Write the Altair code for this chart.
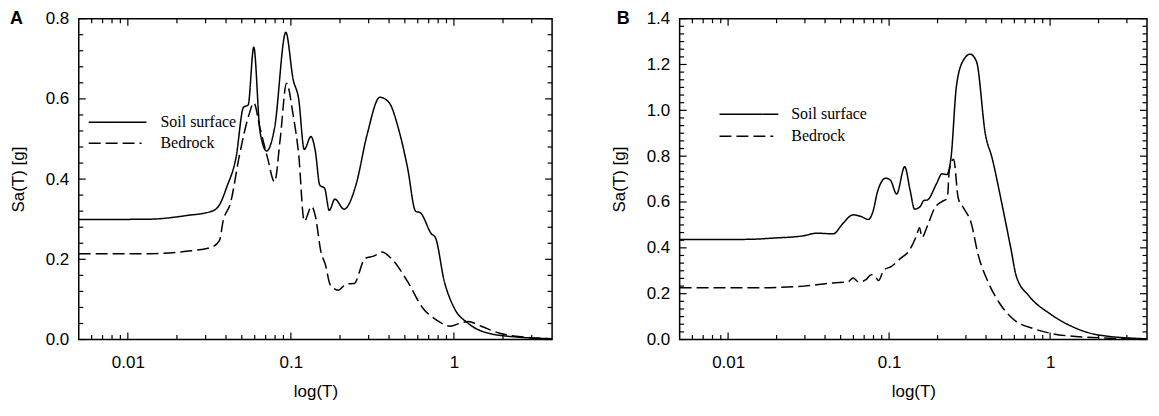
import altair as alt
import pandas as pd

# ---------------- Panel A data ----------------
A_SOIL_T = [0.005, 0.0135, 0.0228, 0.0328, 0.0365, 0.0405, 0.0461, 0.0512, 0.0547, 0.0592,
            0.0647, 0.0710, 0.0794, 0.0931, 0.1033, 0.1116, 0.1208, 0.1327, 0.1412, 0.1504,
            0.161, 0.172, 0.186, 0.212, 0.2505, 0.293, 0.3515, 0.400, 0.456, 0.519,
            0.582, 0.623, 0.729, 0.768, 0.873, 1.0, 1.227, 1.634, 2.48, 4.0]
A_SOIL_SA = [0.299, 0.300, 0.309, 0.320, 0.336, 0.381, 0.454, 0.579, 0.585, 0.729,
             0.518, 0.470, 0.527, 0.766, 0.648, 0.600, 0.474, 0.506, 0.470, 0.385,
             0.377, 0.322, 0.350, 0.325, 0.385, 0.510, 0.604, 0.591, 0.527, 0.429,
             0.320, 0.316, 0.263, 0.255, 0.145, 0.080, 0.040, 0.0156, 0.006, 0.002]

A_BED_T = [0.005, 0.0135, 0.0228, 0.0328, 0.0365, 0.0384, 0.0426, 0.0485, 0.0552, 0.0592,
           0.0647, 0.0718, 0.0794, 0.0861, 0.094, 0.1033, 0.1116, 0.1208, 0.134, 0.1412,
           0.153, 0.163, 0.174, 0.195, 0.220, 0.2437, 0.285, 0.325, 0.3606, 0.4217,
           0.519, 0.640, 0.787, 0.946, 1.105, 1.22, 1.47, 1.91, 2.75, 4.0]
A_BED_SA = [0.214, 0.214, 0.220, 0.2305, 0.247, 0.295, 0.340, 0.462, 0.559, 0.590,
            0.527, 0.454, 0.393, 0.502, 0.639, 0.559, 0.462, 0.295, 0.332, 0.308,
            0.218, 0.186, 0.137, 0.123, 0.139, 0.1395, 0.202, 0.2085, 0.218, 0.198,
            0.145, 0.080, 0.048, 0.0333, 0.0414, 0.045, 0.033, 0.0156, 0.006, 0.002]

# ---------------- Panel B data ----------------
B_SOIL_T = [0.005, 0.01294, 0.0196, 0.02965, 0.0356, 0.045, 0.0512, 0.0598, 0.0663, 0.0743,
            0.0795, 0.0847, 0.0954, 0.102, 0.1114, 0.125, 0.135, 0.144, 0.156, 0.164,
            0.173, 0.197, 0.213, 0.228, 0.2425, 0.262, 0.290, 0.319, 0.349, 0.397,
            0.4355, 0.501, 0.571, 0.617, 0.740, 1.0, 1.386, 1.994, 4.0]
B_SOIL_SA = [0.436, 0.437, 0.443, 0.453, 0.464, 0.461, 0.503, 0.544, 0.538, 0.524,
             0.560, 0.645, 0.704, 0.695, 0.635, 0.754, 0.652, 0.569, 0.580, 0.606,
             0.609, 0.680, 0.723, 0.720, 0.794, 1.106, 1.220, 1.245, 1.213, 0.893,
             0.794, 0.595, 0.396, 0.276, 0.190, 0.112, 0.055, 0.020, 0.003]

B_BED_T = [0.005, 0.0159, 0.02965, 0.0365, 0.045, 0.0553, 0.0598, 0.0647, 0.0718, 0.0775,
           0.081, 0.0860, 0.0929, 0.103, 0.1172, 0.1336, 0.148, 0.1545, 0.160, 0.173,
           0.192, 0.213, 0.230, 0.2365, 0.2516, 0.269, 0.290, 0.323, 0.358, 0.419,
           0.489, 0.602, 0.780, 1.01, 1.70, 4.0]
B_BED_SA = [0.226, 0.226, 0.233, 0.240, 0.247, 0.251, 0.268, 0.251, 0.261, 0.283,
            0.280, 0.257, 0.304, 0.318, 0.353, 0.389, 0.453, 0.488, 0.446, 0.496,
            0.574, 0.602, 0.616, 0.737, 0.787, 0.616, 0.574, 0.510, 0.368, 0.240,
            0.155, 0.084, 0.0486, 0.027, 0.010, 0.002]

# ---------------- ticks & labels ----------------
X_DOMAIN = [0.005, 4]
X_MAJOR = [0.01, 0.1, 1]
X_MINOR = [0.006, 0.007, 0.008, 0.009,
           0.02, 0.03, 0.04, 0.05, 0.06, 0.07, 0.08, 0.09,
           0.2, 0.3, 0.4, 0.5, 0.6, 0.7, 0.8, 0.9,
           2, 3]
A_Y_DOMAIN = [0, 0.8]
A_Y_MAJOR = [0.0, 0.2, 0.4, 0.6, 0.8]
A_Y_MINOR = [0.04, 0.08, 0.12, 0.16, 0.24, 0.28, 0.32, 0.36,
             0.44, 0.48, 0.52, 0.56, 0.64, 0.68, 0.72, 0.76]
B_Y_DOMAIN = [0, 1.4]
B_Y_MAJOR = [0.0, 0.2, 0.4, 0.6, 0.8, 1.0, 1.2, 1.4]
B_Y_MINOR = [0.0333, 0.0667, 0.1, 0.1333, 0.1667,
             0.2333, 0.2667, 0.3, 0.3333, 0.3667,
             0.4333, 0.4667, 0.5, 0.5333, 0.5667,
             0.6333, 0.6667, 0.7, 0.7333, 0.7667,
             0.8333, 0.8667, 0.9, 0.9333, 0.9667,
             1.0333, 1.0667, 1.1, 1.1333, 1.1667,
             1.2333, 1.2667, 1.3, 1.3333, 1.3667]
SERIES = ["Soil surface", "Bedrock"]
X_TITLE = "log(T)"
Y_TITLE = "Sa(T) [g]"

H = 322
MAJ = 7
MIN = 4.5


def panel(letter, soil_t, soil_sa, bed_t, bed_sa, ydom, ymaj, ymin, W, leg_x0, leg_x1, leg_tx, leg_y, letter_x):
    xs = alt.Scale(type="log", domain=X_DOMAIN, nice=False)
    ys = alt.Scale(domain=ydom, nice=False, zero=False)
    df = pd.concat([
        pd.DataFrame({"T": soil_t, "Sa": soil_sa, "s": SERIES[0]}),
        pd.DataFrame({"T": bed_t, "Sa": bed_sa, "s": SERIES[1]}),
    ])
    lines = alt.Chart(df).mark_line(color="black", strokeWidth=1.5, interpolate="monotone").encode(
        x=alt.X("T:Q", scale=xs, title=X_TITLE,
                axis=alt.Axis(values=X_MAJOR, format="~g", ticks=False, domain=False, grid=False,
                              orient="bottom", labelPadding=15, titlePadding=13)),
        y=alt.Y("Sa:Q", scale=ys, title=Y_TITLE,
                axis=alt.Axis(values=ymaj, format=".1f", ticks=False, domain=False, grid=False,
                              orient="left", labelPadding=10, titlePadding=18)),
        strokeDash=alt.StrokeDash("s:N", scale=alt.Scale(domain=SERIES, range=[[1, 0], [12, 5]]), legend=None),
        detail="s:N",
    )

    def xt(vals, y0, y1):
        return alt.Chart(pd.DataFrame({"v": vals})).mark_rule(color="black", strokeWidth=1.2).encode(
            x=alt.X("v:Q", scale=xs, axis=None), y=alt.value(y0), y2=alt.value(y1))

    def yt(vals, x0, x1):
        return alt.Chart(pd.DataFrame({"v": vals})).mark_rule(color="black", strokeWidth=1.2).encode(
            y=alt.Y("v:Q", scale=ys, axis=None), x=alt.value(x0), x2=alt.value(x1))

    ticks = [
        xt(X_MAJOR, H, H - MAJ), xt(X_MINOR, H, H - MIN),
        xt(X_MAJOR, 0, MAJ), xt(X_MINOR, 0, MIN),
        yt(ymaj, 0, MAJ), yt(ymin, 0, MIN),
        yt(ymaj, W, W - MAJ), yt(ymin, W, W - MIN),
    ]

    legend = []
    for i, name in enumerate(SERIES):
        dash = [1, 0] if i == 0 else [12, 5]
        x1 = leg_x1[i]
        legend.append(
            alt.Chart(pd.DataFrame({"label": [name]})).mark_rule(color="black", strokeWidth=1.4, strokeDash=dash).encode(
                x=alt.value(leg_x0), x2=alt.value(x1), y=alt.value(leg_y[i]))
        )
        legend.append(
            alt.Chart(pd.DataFrame({"label": [name]})).mark_text(
                align="left", baseline="middle", font="Liberation Serif", fontSize=16, color="black").encode(
                x=alt.value(leg_tx), y=alt.value(leg_y[i]), text="label:N")
        )

    lab = alt.Chart(pd.DataFrame({"label": [letter]})).mark_text(
        align="left", baseline="alphabetic", font="Liberation Sans", fontSize=18, fontWeight="bold",
        color="black").encode(x=alt.value(letter_x), y=alt.value(5), text="label:N")

    return alt.layer(lines, *ticks, *legend, lab).resolve_axis(
        x="independent", y="independent").properties(width=W, height=H)


pa = panel("A", A_SOIL_T, A_SOIL_SA, A_BED_T, A_BED_SA, A_Y_DOMAIN, A_Y_MAJOR, A_Y_MINOR, 475,
           10, [68, 63], 82, [104, 125], -69)
pb = panel("B", B_SOIL_T, B_SOIL_SA, B_BED_T, B_BED_SA, B_Y_DOMAIN, B_Y_MAJOR, B_Y_MINOR, 469,
           40, [99, 94], 112, [96, 118], -63)

chart = alt.hconcat(pa, pb, spacing=128, bounds="flush").resolve_scale(
    x="independent", y="independent", strokeDash="independent"
).properties(
    padding=0
).configure_view(
    stroke="black", strokeWidth=1.5
).configure_axis(
    labelFont="Liberation Sans", titleFont="Liberation Sans", labelFontSize=17, titleFontSize=17,
    labelColor="black", titleColor="black", titleFontWeight="normal"
)

chart.save("out.html", embed_options={"renderer": "svg", "actions": False})
